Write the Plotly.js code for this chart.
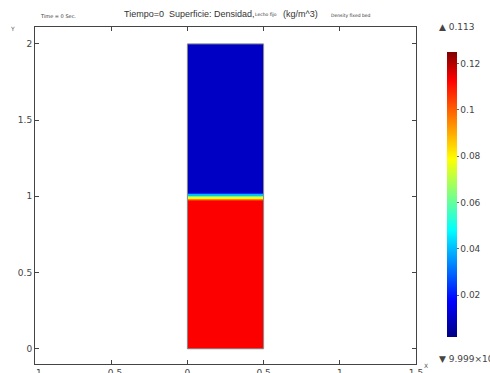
<!DOCTYPE html>
<html><head><meta charset="utf-8">
<script src="https://cdn.plot.ly/plotly-3.0.1.min.js"></script>
<style>html,body{margin:0;padding:0;background:#fff}#c{width:490px;height:373px}</style>
</head><body><div id="c"></div>
<script>
// Domain (column width) and layer edges in y
const xEdges = [0, 0.5];
const yEdges = [0, 0.968, 0.977, 0.986, 0.995, 1.004, 1.013, 1.022, 2.0];
// Density per layer (kg/m^3)
const density = [0.113, 0.106, 0.094, 0.078, 0.058, 0.04, 0.022, 0.01];
const xTicks = [-1, -0.5, 0, 0.5, 1, 1.5];
const yTicks = [0, 0.5, 1, 1.5, 2];
const cbTicks = [0.02, 0.04, 0.06, 0.08, 0.1, 0.12];
const densMax = '0.113';
const densMinHtml = '9.999×10<sup>−3</sup>';

const jet = [[0,'rgb(0,0,131)'],[0.125,'rgb(0,0,255)'],[0.375,'rgb(0,255,255)'],
             [0.625,'rgb(255,255,0)'],[0.9,'rgb(255,0,0)'],[1,'rgb(128,0,0)']];

const F = 'DejaVu Sans, sans-serif';
const FT = 'Liberation Sans, Arial, sans-serif';
const px = v => (v-35)/381; // helper: pixel x to paper fraction (for annotation placement)
const trace = {
  type:'heatmap', x:xEdges, y:yEdges, z:density.map(v=>[v]),
  colorscale:jet, zmin:0.002, zmax:0.125, zsmooth:false,
  colorbar:{x:1.081, xanchor:'left', xpad:0, ypad:0, y:0.503, yanchor:'middle',
    len:285, lenmode:'pixels', thickness:10, outlinewidth:0,
    tickvals:cbTicks, ticktext:cbTicks.map(String), ticks:'outside', ticklen:2, tickcolor:'#666',
    tickfont:{family:F, size:9, color:'#444'}},
  hoverinfo:'skip'
};
const layout = {
  width:490, height:373, margin:{l:35, r:74, t:27, b:9},
  paper_bgcolor:'#fff', plot_bgcolor:'#fff', showlegend:false,
  xaxis:{range:[-1,1.5], tickvals:xTicks, ticks:'inside', ticklen:4, tickcolor:'#444',
    showline:true, mirror:'ticks', linecolor:'#444', linewidth:1, showgrid:false, zeroline:false,
    tickfont:{family:F, size:9, color:'#444'}},
  yaxis:{range:[-0.1,2.111], tickvals:yTicks, ticks:'inside', ticklen:4, tickcolor:'#444',
    showline:true, mirror:'ticks', linecolor:'#444', linewidth:1, showgrid:false, zeroline:false,
    tickfont:{family:F, size:9, color:'#444'}},
  shapes:[{type:'rect', xref:'x', yref:'y', x0:xEdges[0], x1:xEdges[1], y0:yEdges[0], y1:yEdges[yEdges.length-1],
    line:{color:'#888', width:1}}],
  annotations:[
    {xref:'paper', yref:'paper', x:px(122), y:1, yshift:13, xanchor:'left', yanchor:'middle', showarrow:false,
     text:'Tiempo=0  Superficie: Densidad,', font:{family:FT, size:9, color:'#333'}},
    {xref:'paper', yref:'paper', x:px(253), y:1, yshift:13, xanchor:'left', yanchor:'middle', showarrow:false,
     text:'Lecho fijo', font:{family:F, size:4.5, color:'#333'}},
    {xref:'paper', yref:'paper', x:px(281), y:1, yshift:13, xanchor:'left', yanchor:'middle', showarrow:false,
     text:'(kg/m^3)', font:{family:FT, size:9, color:'#333'}},
    {xref:'paper', yref:'paper', x:px(38), y:1, yshift:11, xanchor:'left', yanchor:'middle', showarrow:false,
     text:'Time = 0 Sec.', font:{family:F, size:5, color:'#333'}},
    {xref:'paper', yref:'paper', x:px(329), y:1, yshift:12, xanchor:'left', yanchor:'middle', showarrow:false,
     text:'Density fixed bed', font:{family:F, size:4.5, color:'#333'}},
    {xref:'paper', yref:'paper', x:px(12), y:1, yshift:-1, xanchor:'center', yanchor:'middle', showarrow:false,
     text:'Y', font:{family:F, size:6, color:'#555'}},
    {xref:'paper', yref:'paper', x:px(426), y:0, yshift:-1, xanchor:'center', yanchor:'middle', showarrow:false,
     text:'X', font:{family:F, size:6, color:'#555'}},
    {xref:'paper', yref:'paper', x:px(437), y:1, yshift:0, xanchor:'left', yanchor:'middle', showarrow:false,
     text:'▲ '+densMax, font:{family:F, size:9, color:'#444'}},
    {xref:'paper', yref:'paper', x:px(437), y:0, yshift:6, xanchor:'left', yanchor:'middle', showarrow:false,
     text:'▼ '+densMinHtml, font:{family:F, size:9, color:'#444'}}
  ]
};
Plotly.newPlot('c', [trace], layout, {staticPlot:true, displayModeBar:false});
</script></body></html>
